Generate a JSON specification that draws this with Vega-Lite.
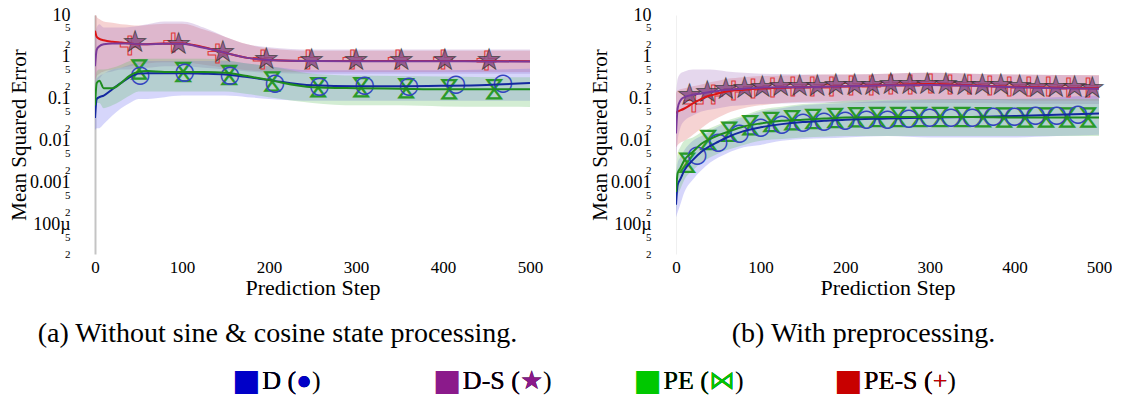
{
"$schema": "https://vega.github.io/schema/vega-lite/v6.json",
"background": "white",
"padding": {"left": 8, "top": 6, "right": 0, "bottom": 0},
"config": {
 "view": {"stroke": null},
 "font": "Liberation Serif, Times New Roman, serif",
 "axis": {"labelFont": "Liberation Serif, Times New Roman, serif", "titleFont": "Liberation Serif, Times New Roman, serif", "labelColor": "black", "titleColor": "black", "titleFontWeight": "normal", "grid": false, "ticks": false}
},
"datasets": {
 "curves": [
{"panel":"a","series":"PE-S","step":0,"y":4.2,"lo":0.28,"hi":12},
{"panel":"a","series":"PE-S","step":2,"y":3.0,"lo":0.35,"hi":9},
{"panel":"a","series":"PE-S","step":5,"y":2.7,"lo":0.4,"hi":8},
{"panel":"a","series":"PE-S","step":10,"y":2.5,"lo":0.45,"hi":7},
{"panel":"a","series":"PE-S","step":20,"y":2.3,"lo":0.5,"hi":6.5},
{"panel":"a","series":"PE-S","step":30,"y":2.2,"lo":0.55,"hi":6},
{"panel":"a","series":"PE-S","step":40,"y":2.1,"lo":0.6,"hi":5.8},
{"panel":"a","series":"PE-S","step":50,"y":2.0,"lo":0.65,"hi":5.6},
{"panel":"a","series":"PE-S","step":60,"y":2.0,"lo":0.7,"hi":5.8},
{"panel":"a","series":"PE-S","step":80,"y":2.1,"lo":0.75,"hi":6.2},
{"panel":"a","series":"PE-S","step":100,"y":2.1,"lo":0.75,"hi":6.2},
{"panel":"a","series":"PE-S","step":125,"y":1.7,"lo":0.65,"hi":4.5},
{"panel":"a","series":"PE-S","step":150,"y":1.25,"lo":0.55,"hi":3.0},
{"panel":"a","series":"PE-S","step":175,"y":0.95,"lo":0.48,"hi":2.0},
{"panel":"a","series":"PE-S","step":200,"y":0.85,"lo":0.45,"hi":1.6},
{"panel":"a","series":"PE-S","step":250,"y":0.8,"lo":0.44,"hi":1.4},
{"panel":"a","series":"PE-S","step":300,"y":0.8,"lo":0.44,"hi":1.4},
{"panel":"a","series":"PE-S","step":350,"y":0.8,"lo":0.44,"hi":1.4},
{"panel":"a","series":"PE-S","step":400,"y":0.8,"lo":0.44,"hi":1.4},
{"panel":"a","series":"PE-S","step":450,"y":0.8,"lo":0.44,"hi":1.4},
{"panel":"a","series":"PE-S","step":500,"y":0.79,"lo":0.44,"hi":1.4},
{"panel":"a","series":"D-S","step":0,"y":0.6,"lo":0.2,"hi":3},
{"panel":"a","series":"D-S","step":2,"y":1.5,"lo":0.25,"hi":5},
{"panel":"a","series":"D-S","step":5,"y":1.8,"lo":0.3,"hi":6},
{"panel":"a","series":"D-S","step":10,"y":2.0,"lo":0.4,"hi":5},
{"panel":"a","series":"D-S","step":20,"y":2.1,"lo":0.45,"hi":5},
{"panel":"a","series":"D-S","step":30,"y":2.1,"lo":0.5,"hi":5},
{"panel":"a","series":"D-S","step":40,"y":2.1,"lo":0.5,"hi":5.2},
{"panel":"a","series":"D-S","step":50,"y":2.0,"lo":0.55,"hi":5.5},
{"panel":"a","series":"D-S","step":60,"y":2.0,"lo":0.55,"hi":6},
{"panel":"a","series":"D-S","step":80,"y":2.05,"lo":0.6,"hi":7},
{"panel":"a","series":"D-S","step":100,"y":2.05,"lo":0.6,"hi":7},
{"panel":"a","series":"D-S","step":125,"y":1.65,"lo":0.55,"hi":5},
{"panel":"a","series":"D-S","step":150,"y":1.25,"lo":0.5,"hi":3},
{"panel":"a","series":"D-S","step":175,"y":0.95,"lo":0.45,"hi":2},
{"panel":"a","series":"D-S","step":200,"y":0.85,"lo":0.42,"hi":1.7},
{"panel":"a","series":"D-S","step":250,"y":0.8,"lo":0.4,"hi":1.5},
{"panel":"a","series":"D-S","step":300,"y":0.79,"lo":0.4,"hi":1.5},
{"panel":"a","series":"D-S","step":350,"y":0.79,"lo":0.4,"hi":1.5},
{"panel":"a","series":"D-S","step":400,"y":0.79,"lo":0.4,"hi":1.5},
{"panel":"a","series":"D-S","step":450,"y":0.78,"lo":0.4,"hi":1.5},
{"panel":"a","series":"D-S","step":500,"y":0.78,"lo":0.4,"hi":1.5},
{"panel":"a","series":"D","step":0,"y":0.035,"lo":0.018,"hi":0.09},
{"panel":"a","series":"D","step":2,"y":0.1,"lo":0.02,"hi":0.3},
{"panel":"a","series":"D","step":5,"y":0.11,"lo":0.02,"hi":0.35},
{"panel":"a","series":"D","step":10,"y":0.12,"lo":0.025,"hi":0.4},
{"panel":"a","series":"D","step":20,"y":0.17,"lo":0.04,"hi":0.5},
{"panel":"a","series":"D","step":30,"y":0.24,"lo":0.06,"hi":0.55},
{"panel":"a","series":"D","step":40,"y":0.33,"lo":0.08,"hi":0.65},
{"panel":"a","series":"D","step":50,"y":0.4,"lo":0.1,"hi":0.75},
{"panel":"a","series":"D","step":60,"y":0.41,"lo":0.1,"hi":0.8},
{"panel":"a","series":"D","step":80,"y":0.41,"lo":0.11,"hi":0.8},
{"panel":"a","series":"D","step":100,"y":0.41,"lo":0.12,"hi":0.8},
{"panel":"a","series":"D","step":125,"y":0.4,"lo":0.12,"hi":0.8},
{"panel":"a","series":"D","step":150,"y":0.38,"lo":0.12,"hi":0.8},
{"panel":"a","series":"D","step":175,"y":0.33,"lo":0.11,"hi":0.7},
{"panel":"a","series":"D","step":200,"y":0.28,"lo":0.1,"hi":0.6},
{"panel":"a","series":"D","step":250,"y":0.21,"lo":0.09,"hi":0.48},
{"panel":"a","series":"D","step":300,"y":0.2,"lo":0.09,"hi":0.48},
{"panel":"a","series":"D","step":350,"y":0.2,"lo":0.09,"hi":0.48},
{"panel":"a","series":"D","step":400,"y":0.205,"lo":0.09,"hi":0.48},
{"panel":"a","series":"D","step":450,"y":0.215,"lo":0.09,"hi":0.5},
{"panel":"a","series":"D","step":500,"y":0.24,"lo":0.09,"hi":0.52},
{"panel":"a","series":"PE","step":0,"y":0.07,"lo":0.03,"hi":0.2},
{"panel":"a","series":"PE","step":2,"y":0.24,"lo":0.08,"hi":0.45},
{"panel":"a","series":"PE","step":5,"y":0.27,"lo":0.08,"hi":0.5},
{"panel":"a","series":"PE","step":10,"y":0.18,"lo":0.06,"hi":0.5},
{"panel":"a","series":"PE","step":20,"y":0.18,"lo":0.07,"hi":0.55},
{"panel":"a","series":"PE","step":30,"y":0.24,"lo":0.09,"hi":0.65},
{"panel":"a","series":"PE","step":40,"y":0.36,"lo":0.12,"hi":0.8},
{"panel":"a","series":"PE","step":50,"y":0.44,"lo":0.15,"hi":0.9},
{"panel":"a","series":"PE","step":60,"y":0.46,"lo":0.15,"hi":0.9},
{"panel":"a","series":"PE","step":80,"y":0.44,"lo":0.15,"hi":0.9},
{"panel":"a","series":"PE","step":100,"y":0.44,"lo":0.15,"hi":0.9},
{"panel":"a","series":"PE","step":125,"y":0.44,"lo":0.15,"hi":0.9},
{"panel":"a","series":"PE","step":150,"y":0.42,"lo":0.15,"hi":0.85},
{"panel":"a","series":"PE","step":175,"y":0.35,"lo":0.13,"hi":0.7},
{"panel":"a","series":"PE","step":200,"y":0.28,"lo":0.11,"hi":0.6},
{"panel":"a","series":"PE","step":250,"y":0.19,"lo":0.08,"hi":0.4},
{"panel":"a","series":"PE","step":300,"y":0.18,"lo":0.07,"hi":0.36},
{"panel":"a","series":"PE","step":350,"y":0.175,"lo":0.07,"hi":0.35},
{"panel":"a","series":"PE","step":400,"y":0.17,"lo":0.066,"hi":0.34},
{"panel":"a","series":"PE","step":450,"y":0.17,"lo":0.065,"hi":0.33},
{"panel":"a","series":"PE","step":500,"y":0.17,"lo":0.064,"hi":0.33},
{"panel":"b","series":"PE-S","step":0,"y":0.045,"lo":0.007,"hi":0.14},
{"panel":"b","series":"PE-S","step":2,"y":0.05,"lo":0.008,"hi":0.16},
{"panel":"b","series":"PE-S","step":5,"y":0.053,"lo":0.009,"hi":0.17},
{"panel":"b","series":"PE-S","step":10,"y":0.059,"lo":0.01,"hi":0.18},
{"panel":"b","series":"PE-S","step":20,"y":0.078,"lo":0.014,"hi":0.2},
{"panel":"b","series":"PE-S","step":30,"y":0.1,"lo":0.02,"hi":0.22},
{"panel":"b","series":"PE-S","step":40,"y":0.12,"lo":0.028,"hi":0.25},
{"panel":"b","series":"PE-S","step":50,"y":0.135,"lo":0.036,"hi":0.27},
{"panel":"b","series":"PE-S","step":60,"y":0.15,"lo":0.045,"hi":0.3},
{"panel":"b","series":"PE-S","step":80,"y":0.165,"lo":0.06,"hi":0.33},
{"panel":"b","series":"PE-S","step":100,"y":0.177,"lo":0.07,"hi":0.35},
{"panel":"b","series":"PE-S","step":125,"y":0.185,"lo":0.08,"hi":0.36},
{"panel":"b","series":"PE-S","step":150,"y":0.19,"lo":0.085,"hi":0.37},
{"panel":"b","series":"PE-S","step":175,"y":0.195,"lo":0.088,"hi":0.38},
{"panel":"b","series":"PE-S","step":200,"y":0.2,"lo":0.09,"hi":0.38},
{"panel":"b","series":"PE-S","step":250,"y":0.215,"lo":0.095,"hi":0.4},
{"panel":"b","series":"PE-S","step":300,"y":0.225,"lo":0.095,"hi":0.42},
{"panel":"b","series":"PE-S","step":350,"y":0.21,"lo":0.095,"hi":0.4},
{"panel":"b","series":"PE-S","step":400,"y":0.195,"lo":0.092,"hi":0.38},
{"panel":"b","series":"PE-S","step":450,"y":0.185,"lo":0.09,"hi":0.37},
{"panel":"b","series":"PE-S","step":500,"y":0.18,"lo":0.09,"hi":0.37},
{"panel":"b","series":"D-S","step":0,"y":0.015,"lo":0.003,"hi":0.12},
{"panel":"b","series":"D-S","step":2,"y":0.06,"lo":0.01,"hi":0.3},
{"panel":"b","series":"D-S","step":5,"y":0.09,"lo":0.02,"hi":0.4},
{"panel":"b","series":"D-S","step":10,"y":0.11,"lo":0.03,"hi":0.45},
{"panel":"b","series":"D-S","step":20,"y":0.125,"lo":0.04,"hi":0.5},
{"panel":"b","series":"D-S","step":30,"y":0.135,"lo":0.05,"hi":0.5},
{"panel":"b","series":"D-S","step":40,"y":0.145,"lo":0.055,"hi":0.5},
{"panel":"b","series":"D-S","step":50,"y":0.155,"lo":0.06,"hi":0.48},
{"panel":"b","series":"D-S","step":60,"y":0.165,"lo":0.065,"hi":0.45},
{"panel":"b","series":"D-S","step":80,"y":0.175,"lo":0.07,"hi":0.42},
{"panel":"b","series":"D-S","step":100,"y":0.185,"lo":0.075,"hi":0.4},
{"panel":"b","series":"D-S","step":125,"y":0.19,"lo":0.078,"hi":0.39},
{"panel":"b","series":"D-S","step":150,"y":0.19,"lo":0.08,"hi":0.38},
{"panel":"b","series":"D-S","step":175,"y":0.195,"lo":0.08,"hi":0.38},
{"panel":"b","series":"D-S","step":200,"y":0.2,"lo":0.08,"hi":0.38},
{"panel":"b","series":"D-S","step":250,"y":0.21,"lo":0.08,"hi":0.4},
{"panel":"b","series":"D-S","step":300,"y":0.215,"lo":0.08,"hi":0.42},
{"panel":"b","series":"D-S","step":350,"y":0.205,"lo":0.08,"hi":0.4},
{"panel":"b","series":"D-S","step":400,"y":0.19,"lo":0.078,"hi":0.38},
{"panel":"b","series":"D-S","step":450,"y":0.18,"lo":0.076,"hi":0.37},
{"panel":"b","series":"D-S","step":500,"y":0.175,"lo":0.075,"hi":0.36},
{"panel":"b","series":"D","step":0,"y":0.0003,"lo":0.00015,"hi":0.0012},
{"panel":"b","series":"D","step":2,"y":0.0009,"lo":0.0002,"hi":0.003},
{"panel":"b","series":"D","step":5,"y":0.0012,"lo":0.0003,"hi":0.004},
{"panel":"b","series":"D","step":10,"y":0.002,"lo":0.0006,"hi":0.006},
{"panel":"b","series":"D","step":20,"y":0.0035,"lo":0.0012,"hi":0.01},
{"panel":"b","series":"D","step":30,"y":0.0055,"lo":0.002,"hi":0.013},
{"panel":"b","series":"D","step":40,"y":0.0075,"lo":0.003,"hi":0.017},
{"panel":"b","series":"D","step":50,"y":0.0095,"lo":0.004,"hi":0.022},
{"panel":"b","series":"D","step":60,"y":0.012,"lo":0.005,"hi":0.027},
{"panel":"b","series":"D","step":80,"y":0.017,"lo":0.007,"hi":0.037},
{"panel":"b","series":"D","step":100,"y":0.021,"lo":0.008,"hi":0.05},
{"panel":"b","series":"D","step":125,"y":0.025,"lo":0.01,"hi":0.06},
{"panel":"b","series":"D","step":150,"y":0.028,"lo":0.011,"hi":0.07},
{"panel":"b","series":"D","step":175,"y":0.03,"lo":0.0115,"hi":0.075},
{"panel":"b","series":"D","step":200,"y":0.032,"lo":0.012,"hi":0.08},
{"panel":"b","series":"D","step":250,"y":0.034,"lo":0.013,"hi":0.09},
{"panel":"b","series":"D","step":300,"y":0.036,"lo":0.012,"hi":0.095},
{"panel":"b","series":"D","step":350,"y":0.037,"lo":0.012,"hi":0.1},
{"panel":"b","series":"D","step":400,"y":0.039,"lo":0.012,"hi":0.1},
{"panel":"b","series":"D","step":450,"y":0.042,"lo":0.013,"hi":0.11},
{"panel":"b","series":"D","step":500,"y":0.045,"lo":0.014,"hi":0.12},
{"panel":"b","series":"PE","step":0,"y":0.0006,"lo":0.0002,"hi":0.002},
{"panel":"b","series":"PE","step":2,"y":0.0017,"lo":0.0005,"hi":0.005},
{"panel":"b","series":"PE","step":5,"y":0.0022,"lo":0.0007,"hi":0.007},
{"panel":"b","series":"PE","step":10,"y":0.0035,"lo":0.0012,"hi":0.01},
{"panel":"b","series":"PE","step":20,"y":0.0055,"lo":0.002,"hi":0.012},
{"panel":"b","series":"PE","step":30,"y":0.0085,"lo":0.003,"hi":0.016},
{"panel":"b","series":"PE","step":40,"y":0.011,"lo":0.004,"hi":0.02},
{"panel":"b","series":"PE","step":50,"y":0.0135,"lo":0.005,"hi":0.024},
{"panel":"b","series":"PE","step":60,"y":0.016,"lo":0.006,"hi":0.03},
{"panel":"b","series":"PE","step":80,"y":0.022,"lo":0.008,"hi":0.04},
{"panel":"b","series":"PE","step":100,"y":0.026,"lo":0.01,"hi":0.055},
{"panel":"b","series":"PE","step":125,"y":0.03,"lo":0.011,"hi":0.065},
{"panel":"b","series":"PE","step":150,"y":0.032,"lo":0.012,"hi":0.075},
{"panel":"b","series":"PE","step":175,"y":0.034,"lo":0.0125,"hi":0.08},
{"panel":"b","series":"PE","step":200,"y":0.036,"lo":0.013,"hi":0.09},
{"panel":"b","series":"PE","step":250,"y":0.037,"lo":0.013,"hi":0.095},
{"panel":"b","series":"PE","step":300,"y":0.037,"lo":0.013,"hi":0.1},
{"panel":"b","series":"PE","step":350,"y":0.037,"lo":0.013,"hi":0.1},
{"panel":"b","series":"PE","step":400,"y":0.036,"lo":0.013,"hi":0.1},
{"panel":"b","series":"PE","step":450,"y":0.036,"lo":0.013,"hi":0.1},
{"panel":"b","series":"PE","step":500,"y":0.036,"lo":0.013,"hi":0.1}
 ],
 "pts": [
{"panel":"a","series":"PE-S","step":40,"y":1.85},{"panel":"a","series":"PE-S","step":90,"y":2.1},{"panel":"a","series":"PE-S","step":141,"y":1.2},{"panel":"a","series":"PE-S","step":193,"y":0.84},{"panel":"a","series":"PE-S","step":245,"y":0.84},{"panel":"a","series":"PE-S","step":296,"y":0.84},{"panel":"a","series":"PE-S","step":348,"y":0.84},{"panel":"a","series":"PE-S","step":400,"y":0.84},{"panel":"a","series":"PE-S","step":450,"y":0.82},
{"panel":"a","series":"D-S","step":46,"y":2.2},{"panel":"a","series":"D-S","step":96,"y":1.95},{"panel":"a","series":"D-S","step":147,"y":1.25},{"panel":"a","series":"D-S","step":197,"y":0.84},{"panel":"a","series":"D-S","step":249,"y":0.82},{"panel":"a","series":"D-S","step":300,"y":0.82},{"panel":"a","series":"D-S","step":352,"y":0.81},{"panel":"a","series":"D-S","step":402,"y":0.81},{"panel":"a","series":"D-S","step":453,"y":0.8},
{"panel":"a","series":"D","step":52,"y":0.37},{"panel":"a","series":"D","step":103,"y":0.44},{"panel":"a","series":"D","step":155,"y":0.37},{"panel":"a","series":"D","step":207,"y":0.24},{"panel":"a","series":"D","step":258,"y":0.2},{"panel":"a","series":"D","step":310,"y":0.21},{"panel":"a","series":"D","step":361,"y":0.2},{"panel":"a","series":"D","step":415,"y":0.23},{"panel":"a","series":"D","step":469,"y":0.24},
{"panel":"a","series":"PE","step":51,"y":0.5},{"panel":"a","series":"PE","step":101,"y":0.44},{"panel":"a","series":"PE","step":154,"y":0.37},{"panel":"a","series":"PE","step":204,"y":0.26},{"panel":"a","series":"PE","step":256,"y":0.19},{"panel":"a","series":"PE","step":306,"y":0.19},{"panel":"a","series":"PE","step":357,"y":0.18},{"panel":"a","series":"PE","step":407,"y":0.17},{"panel":"a","series":"PE","step":459,"y":0.17},
{"panel":"b","series":"D-S","step":16,"y":0.12},{"panel":"b","series":"D-S","step":37,"y":0.14},{"panel":"b","series":"D-S","step":59,"y":0.16},{"panel":"b","series":"D-S","step":81,"y":0.175},{"panel":"b","series":"D-S","step":102,"y":0.185},{"panel":"b","series":"D-S","step":124,"y":0.19},{"panel":"b","series":"D-S","step":146,"y":0.19},{"panel":"b","series":"D-S","step":167,"y":0.195},{"panel":"b","series":"D-S","step":189,"y":0.2},{"panel":"b","series":"D-S","step":211,"y":0.2},{"panel":"b","series":"D-S","step":232,"y":0.205},{"panel":"b","series":"D-S","step":254,"y":0.21},{"panel":"b","series":"D-S","step":276,"y":0.213},{"panel":"b","series":"D-S","step":297,"y":0.215},{"panel":"b","series":"D-S","step":319,"y":0.21},{"panel":"b","series":"D-S","step":341,"y":0.208},{"panel":"b","series":"D-S","step":362,"y":0.205},{"panel":"b","series":"D-S","step":384,"y":0.2},{"panel":"b","series":"D-S","step":406,"y":0.19},{"panel":"b","series":"D-S","step":427,"y":0.185},{"panel":"b","series":"D-S","step":449,"y":0.18},{"panel":"b","series":"D-S","step":471,"y":0.178},{"panel":"b","series":"D-S","step":492,"y":0.175},
{"panel":"b","series":"PE-S","step":21,"y":0.08},{"panel":"b","series":"PE-S","step":44,"y":0.125},{"panel":"b","series":"PE-S","step":68,"y":0.155},{"panel":"b","series":"PE-S","step":91,"y":0.17},{"panel":"b","series":"PE-S","step":114,"y":0.18},{"panel":"b","series":"PE-S","step":138,"y":0.187},{"panel":"b","series":"PE-S","step":161,"y":0.192},{"panel":"b","series":"PE-S","step":184,"y":0.196},{"panel":"b","series":"PE-S","step":207,"y":0.2},{"panel":"b","series":"PE-S","step":231,"y":0.207},{"panel":"b","series":"PE-S","step":254,"y":0.215},{"panel":"b","series":"PE-S","step":277,"y":0.22},{"panel":"b","series":"PE-S","step":301,"y":0.224},{"panel":"b","series":"PE-S","step":324,"y":0.218},{"panel":"b","series":"PE-S","step":347,"y":0.21},{"panel":"b","series":"PE-S","step":371,"y":0.2},{"panel":"b","series":"PE-S","step":394,"y":0.195},{"panel":"b","series":"PE-S","step":417,"y":0.19},{"panel":"b","series":"PE-S","step":440,"y":0.187},{"panel":"b","series":"PE-S","step":464,"y":0.183},{"panel":"b","series":"PE-S","step":487,"y":0.18},
{"panel":"b","series":"D","step":25,"y":0.0045},{"panel":"b","series":"D","step":50,"y":0.0095},{"panel":"b","series":"D","step":75,"y":0.0155},{"panel":"b","series":"D","step":100,"y":0.021},{"panel":"b","series":"D","step":125,"y":0.025},{"panel":"b","series":"D","step":150,"y":0.028},{"panel":"b","series":"D","step":175,"y":0.03},{"panel":"b","series":"D","step":200,"y":0.032},{"panel":"b","series":"D","step":225,"y":0.033},{"panel":"b","series":"D","step":250,"y":0.034},{"panel":"b","series":"D","step":275,"y":0.035},{"panel":"b","series":"D","step":300,"y":0.036},{"panel":"b","series":"D","step":325,"y":0.0365},{"panel":"b","series":"D","step":350,"y":0.037},{"panel":"b","series":"D","step":375,"y":0.038},{"panel":"b","series":"D","step":400,"y":0.039},{"panel":"b","series":"D","step":425,"y":0.0405},{"panel":"b","series":"D","step":450,"y":0.042},{"panel":"b","series":"D","step":475,"y":0.0435},
{"panel":"b","series":"PE","step":12.5,"y":0.003},{"panel":"b","series":"PE","step":37.5,"y":0.0105},{"panel":"b","series":"PE","step":62.5,"y":0.0165},{"panel":"b","series":"PE","step":87.5,"y":0.0235},{"panel":"b","series":"PE","step":112.5,"y":0.028},{"panel":"b","series":"PE","step":137.5,"y":0.031},{"panel":"b","series":"PE","step":162.5,"y":0.033},{"panel":"b","series":"PE","step":187.5,"y":0.035},{"panel":"b","series":"PE","step":212.5,"y":0.0365},{"panel":"b","series":"PE","step":237.5,"y":0.037},{"panel":"b","series":"PE","step":262.5,"y":0.037},{"panel":"b","series":"PE","step":287.5,"y":0.037},{"panel":"b","series":"PE","step":312.5,"y":0.037},{"panel":"b","series":"PE","step":337.5,"y":0.037},{"panel":"b","series":"PE","step":362.5,"y":0.0365},{"panel":"b","series":"PE","step":387.5,"y":0.036},{"panel":"b","series":"PE","step":412.5,"y":0.036},{"panel":"b","series":"PE","step":437.5,"y":0.036},{"panel":"b","series":"PE","step":462.5,"y":0.036},{"panel":"b","series":"PE","step":487.5,"y":0.036}
 ],
 "leg": [
  {"name":"D","full":"D (●)","pre":"D (●","base":"D ("},
  {"name":"D-S","full":"D-S (★)","pre":"D-S (★","base":"D-S ("},
  {"name":"PE","full":"PE (⋈)","pre":"PE (⋈","base":"PE ("},
  {"name":"PE-S","full":"PE-S (+)","pre":"PE-S (+","base":"PE-S ("}
 ]
},
"spacing": 18,
"vconcat": [
 {"hconcat": [
  {"width": 435, "height": 239,
   "title": {"text": "(a) Without sine & cosine state processing.", "orient": "bottom", "anchor": "middle", "dx": -35, "offset": 22, "fontSize": 28, "font": "Liberation Serif, Times New Roman, serif", "fontWeight": "normal", "color": "black"},
   "layer": [
    {"data": {"name": "curves"}, "transform": [{"filter": "datum.panel === 'a'"}],
     "mark": {"type": "area", "opacity": 0.28, "interpolate": "monotone", "clip": true},
     "encoding": {
      "x": {"field": "step", "type": "quantitative", "title": "Prediction Step", "scale": {"domain": [0, 500], "nice": false},
            "axis": {"values": [0,100,200,300,400,500], "domain": false, "labelFontSize": 17, "labelPadding": 5, "labelFlush": false, "titleFontSize": 22, "titlePadding": 2, "titleFont": "Liberation Serif, Times New Roman, serif", "labelFont": "Liberation Serif, Times New Roman, serif"}},
      "y": {"field": "lo", "type": "quantitative", "title": "Mean Squared Error", "scale": {"type": "log", "domain": [0.00002, 10], "nice": false},
            "axis": {"values": [10,5,2,1,0.5,0.2,0.1,0.05,0.02,0.01,0.005,0.002,0.001,0.0005,0.0002,0.0001,0.00005,0.00002],
                     "labelExpr": "datum.value == 10 ? '10' : datum.value == 1 ? '1' : datum.value == 0.1 ? '0.1' : datum.value == 0.01 ? '0.01' : datum.value == 0.001 ? '0.001' : datum.value == 0.0001 ? '100µ' : (datum.value == 5 || datum.value == 0.5 || datum.value == 0.05 || datum.value == 0.005 || datum.value == 0.0005 || datum.value == 0.00005) ? '5' : '2'",
                     "labelFontSize": {"condition": {"test": "datum.value == 10 || datum.value == 1 || datum.value == 0.1 || datum.value == 0.01 || datum.value == 0.001 || datum.value == 0.0001", "value": 18}, "value": 11},
                     "labelOverlap": false, "labelBound": false, "labelFlush": false, "labelPadding": 25, "minExtent": 66, "maxExtent": 66,
                     "titleFont": "Liberation Serif, Times New Roman, serif", "labelFont": "Liberation Serif, Times New Roman, serif",
                     "domainColor": "#c4c4c4", "domainWidth": 2, "titleFontSize": 21, "titlePadding": 0}},
      "y2": {"field": "hi"},
      "fill": {"field": "series", "type": "nominal", "scale": {"domain": ["D","D-S","PE","PE-S"], "range": ["#6a6af0","#a070c0","#60c060","#e06060"]}, "legend": null}
     }},
    {"data": {"name": "pts"}, "transform": [{"filter": "datum.panel === 'a' && datum.series === 'PE-S'"}],
     "mark": {"type": "text", "text": "+", "font": "DejaVu Sans", "fontWeight": "bold", "fontSize": 30, "align": "center", "baseline": "middle", "fillOpacity": 0, "stroke": "#e03c3c", "strokeWidth": 1.1},
     "encoding": {"x": {"field": "step", "type": "quantitative"}, "y": {"field": "y", "type": "quantitative"}}},
    {"data": {"name": "pts"}, "transform": [{"filter": "datum.panel === 'a' && datum.series === 'D-S'"}],
     "mark": {"type": "text", "text": "★", "font": "DejaVu Sans", "fontSize": 28, "align": "center", "baseline": "middle", "color": "#8c4f87", "opacity": 0.85, "stroke": "#333333", "strokeWidth": 0.8},
     "encoding": {"x": {"field": "step", "type": "quantitative"}, "y": {"field": "y", "type": "quantitative"}}},
    {"data": {"name": "pts"}, "transform": [{"filter": "datum.panel === 'a' && datum.series === 'PE'"}],
     "mark": {"type": "text", "text": "⋈", "font": "DejaVu Sans", "fontSize": 26, "angle": 90, "align": "center", "baseline": "middle", "color": "#2a9a2a"},
     "encoding": {"x": {"field": "step", "type": "quantitative"}, "y": {"field": "y", "type": "quantitative"}}},
    {"data": {"name": "pts"}, "transform": [{"filter": "datum.panel === 'a' && datum.series === 'D'"}],
     "mark": {"type": "text", "text": "○", "font": "DejaVu Sans", "fontSize": 24, "align": "center", "baseline": "middle", "color": "#3444c0"},
     "encoding": {"x": {"field": "step", "type": "quantitative"}, "y": {"field": "y", "type": "quantitative"}}},
    {"data": {"name": "curves"}, "transform": [{"filter": "datum.panel === 'a'"}],
     "mark": {"type": "line", "interpolate": "monotone", "strokeWidth": 2, "clip": true},
     "encoding": {"x": {"field": "step", "type": "quantitative"}, "y": {"field": "y", "type": "quantitative"},
      "stroke": {"field": "series", "type": "nominal", "scale": {"domain": ["D","D-S","PE","PE-S"], "range": ["#1428a0","#7a3a9a","#1e8c1e","#dc1414"]}, "legend": null}}}
   ]},
  {"width": 423, "height": 239,
   "title": {"text": "(b) With preprocessing.", "orient": "bottom", "anchor": "middle", "dx": -24, "offset": 22, "fontSize": 28, "font": "Liberation Serif, Times New Roman, serif", "fontWeight": "normal", "color": "black"},
   "layer": [
    {"data": {"name": "curves"}, "transform": [{"filter": "datum.panel === 'b'"}],
     "mark": {"type": "area", "opacity": 0.28, "interpolate": "monotone", "clip": true},
     "encoding": {
      "x": {"field": "step", "type": "quantitative", "title": "Prediction Step", "scale": {"domain": [0, 500], "nice": false},
            "axis": {"values": [0,100,200,300,400,500], "domain": false, "labelFontSize": 17, "labelPadding": 5, "labelFlush": false, "titleFontSize": 22, "titlePadding": 2, "titleFont": "Liberation Serif, Times New Roman, serif", "labelFont": "Liberation Serif, Times New Roman, serif"}},
      "y": {"field": "lo", "type": "quantitative", "title": "Mean Squared Error", "scale": {"type": "log", "domain": [0.00002, 10], "nice": false},
            "axis": {"values": [10,5,2,1,0.5,0.2,0.1,0.05,0.02,0.01,0.005,0.002,0.001,0.0005,0.0002,0.0001,0.00005,0.00002],
                     "labelExpr": "datum.value == 10 ? '10' : datum.value == 1 ? '1' : datum.value == 0.1 ? '0.1' : datum.value == 0.01 ? '0.01' : datum.value == 0.001 ? '0.001' : datum.value == 0.0001 ? '100µ' : (datum.value == 5 || datum.value == 0.5 || datum.value == 0.05 || datum.value == 0.005 || datum.value == 0.0005 || datum.value == 0.00005) ? '5' : '2'",
                     "labelFontSize": {"condition": {"test": "datum.value == 10 || datum.value == 1 || datum.value == 0.1 || datum.value == 0.01 || datum.value == 0.001 || datum.value == 0.0001", "value": 18}, "value": 11},
                     "labelOverlap": false, "labelBound": false, "labelFlush": false, "labelPadding": 25, "minExtent": 66, "maxExtent": 66,
                     "titleFont": "Liberation Serif, Times New Roman, serif", "labelFont": "Liberation Serif, Times New Roman, serif",
                     "domainColor": "#f0f0f0", "domainWidth": 1, "titleFontSize": 21, "titlePadding": 0}},
      "y2": {"field": "hi"},
      "fill": {"field": "series", "type": "nominal", "scale": {"domain": ["D","D-S","PE","PE-S"], "range": ["#6a6af0","#a070c0","#60c060","#e06060"]}, "legend": null}
     }},
    {"data": {"name": "pts"}, "transform": [{"filter": "datum.panel === 'b' && datum.series === 'PE-S'"}],
     "mark": {"type": "text", "text": "+", "font": "DejaVu Sans", "fontWeight": "bold", "fontSize": 30, "align": "center", "baseline": "middle", "fillOpacity": 0, "stroke": "#e03c3c", "strokeWidth": 1.1},
     "encoding": {"x": {"field": "step", "type": "quantitative"}, "y": {"field": "y", "type": "quantitative"}}},
    {"data": {"name": "pts"}, "transform": [{"filter": "datum.panel === 'b' && datum.series === 'D-S'"}],
     "mark": {"type": "text", "text": "★", "font": "DejaVu Sans", "fontSize": 28, "align": "center", "baseline": "middle", "color": "#8c4f87", "opacity": 0.85, "stroke": "#333333", "strokeWidth": 0.8},
     "encoding": {"x": {"field": "step", "type": "quantitative"}, "y": {"field": "y", "type": "quantitative"}}},
    {"data": {"name": "pts"}, "transform": [{"filter": "datum.panel === 'b' && datum.series === 'PE'"}],
     "mark": {"type": "text", "text": "⋈", "font": "DejaVu Sans", "fontSize": 26, "angle": 90, "align": "center", "baseline": "middle", "color": "#2a9a2a"},
     "encoding": {"x": {"field": "step", "type": "quantitative"}, "y": {"field": "y", "type": "quantitative"}}},
    {"data": {"name": "pts"}, "transform": [{"filter": "datum.panel === 'b' && datum.series === 'D'"}],
     "mark": {"type": "text", "text": "○", "font": "DejaVu Sans", "fontSize": 24, "align": "center", "baseline": "middle", "color": "#3444c0"},
     "encoding": {"x": {"field": "step", "type": "quantitative"}, "y": {"field": "y", "type": "quantitative"}}},
    {"data": {"name": "curves"}, "transform": [{"filter": "datum.panel === 'b'"}],
     "mark": {"type": "line", "interpolate": "monotone", "strokeWidth": 2, "clip": true},
     "encoding": {"x": {"field": "step", "type": "quantitative"}, "y": {"field": "y", "type": "quantitative"},
      "stroke": {"field": "series", "type": "nominal", "scale": {"domain": ["D","D-S","PE","PE-S"], "range": ["#1428a0","#7a3a9a","#1e8c1e","#dc1414"]}, "legend": null}}}
   ]}
 ], "spacing": 46},
 {"width": 1003, "height": 30,
  "data": {"name": "leg"},
  "encoding": {"x": {"field": "name", "type": "nominal", "scale": {"type": "point", "padding": 1.947, "align": 0.377, "domain": ["D","D-S","PE","PE-S"]}, "axis": null}},
  "layer": [
   {"mark": {"type": "text", "text": "■", "font": "DejaVu Sans", "fontSize": 30, "align": "center", "baseline": "middle"},
    "encoding": {"color": {"field": "name", "type": "nominal", "scale": {"domain": ["D","D-S","PE","PE-S"], "range": ["#0000c8","#8b1a8b","#00c800","#c80000"]}, "legend": null}}},
   {"mark": {"type": "text", "align": "left", "baseline": "middle", "dx": 16, "fontSize": 26, "font": "Liberation Serif, Times New Roman, serif", "color": "black"},
    "encoding": {"text": {"field": "full", "type": "nominal"}}},
   {"mark": {"type": "text", "align": "left", "baseline": "middle", "dx": 16, "fontSize": 26, "font": "Liberation Serif, Times New Roman, serif"},
    "encoding": {"text": {"field": "pre", "type": "nominal"}, "color": {"field": "name", "type": "nominal", "legend": null}}},
   {"mark": {"type": "text", "align": "left", "baseline": "middle", "dx": 16, "fontSize": 26, "font": "Liberation Serif, Times New Roman, serif", "color": "black"},
    "encoding": {"text": {"field": "base", "type": "nominal"}}}
  ]}
]
}
